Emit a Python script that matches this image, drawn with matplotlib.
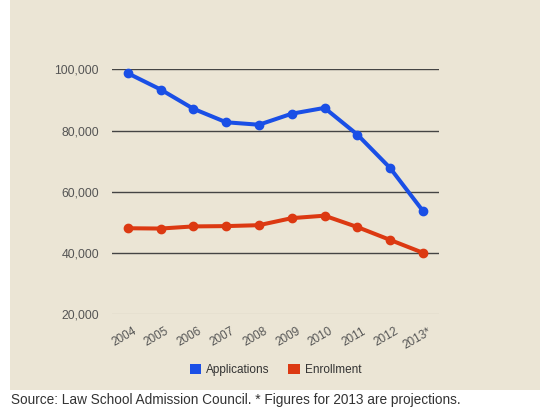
import matplotlib.pyplot as plt
import matplotlib.transforms as mtransforms
from matplotlib.patches import Rectangle, Patch

years = ['2004', '2005', '2006', '2007', '2008', '2009', '2010', '2011', '2012', '2013*']
applications = [98700, 93400, 87100, 82700, 81900, 85500, 87400, 78700, 67800, 53800]
enrollment = [48100, 48000, 48700, 48800, 49100, 51400, 52200, 48500, 44300, 40100]
yticks = [20000, 40000, 60000, 80000, 100000]

blue = '#1a4fe6'
red = '#dc3912'
beige = '#ebe5d5'

plt.rcParams['font.family'] = ['Liberation Sans', 'DejaVu Sans']

fig = plt.figure(figsize=(5.5, 4.12), dpi=100)
fig.patch.set_facecolor('white')
fig.add_artist(Rectangle((10 / 550, 22 / 412), 530 / 550, 1 - 22 / 412,
                         transform=fig.transFigure, facecolor=beige,
                         edgecolor='none', zorder=-5))

ax = fig.add_axes([111.5 / 550, (412 - 314.3) / 412, 327.7 / 550, 245 / 412])
ax.set_zorder(2)
ax.patch.set_visible(False)
x = list(range(len(years)))

for y in yticks:
    col = '#d2ccbe' if y == 20000 else '#444444'
    ax.axhline(y, color=col, lw=1, zorder=1)

ax.plot(x, applications, color=blue, lw=2.9, marker='o', ms=6, zorder=3,
        solid_capstyle='round', solid_joinstyle='round', clip_on=False)
ax.plot(x, enrollment, color=red, lw=2.9, marker='o', ms=6, zorder=3,
        solid_capstyle='round', solid_joinstyle='round', clip_on=False)

ax.set_xlim(-0.5, len(years) - 0.5)
ax.set_ylim(20000, 100000)
ax.set_yticks(yticks)
ax.set_yticklabels(['{:,}'.format(v) for v in yticks], fontsize=8.8, color='#555555')
ax.set_xticks(x)
ax.set_xticklabels(years, rotation=30, ha='right', rotation_mode='anchor',
                   fontsize=8.5, color='#555555')
ax.tick_params(axis='y', length=0, pad=9)
ax.tick_params(axis='x', length=0, pad=8)
shift = mtransforms.ScaledTranslation(4.5 / 100, 0, fig.dpi_scale_trans)
for lbl in ax.get_xticklabels():
    lbl.set_transform(lbl.get_transform() + shift)
for s in ax.spines.values():
    s.set_visible(False)

handles = [Patch(facecolor=blue, edgecolor='none', label='Applications'),
           Patch(facecolor=red, edgecolor='none', label='Enrollment')]
fig.legend(handles=handles, loc='center', bbox_to_anchor=(275.5 / 550, 42 / 412),
           ncol=2, frameon=False, fontsize=8.5, handlelength=0.95,
           handleheight=0.95, handletextpad=0.45, columnspacing=1.6,
           labelcolor='#333333')

fig.text(11 / 550, 8 / 412, 'Source: Law School Admission Council. * Figures for 2013 are projections.',
         fontsize=9.8, color='#333333', va='baseline', ha='left')

fig.savefig('out.png', dpi=100)
